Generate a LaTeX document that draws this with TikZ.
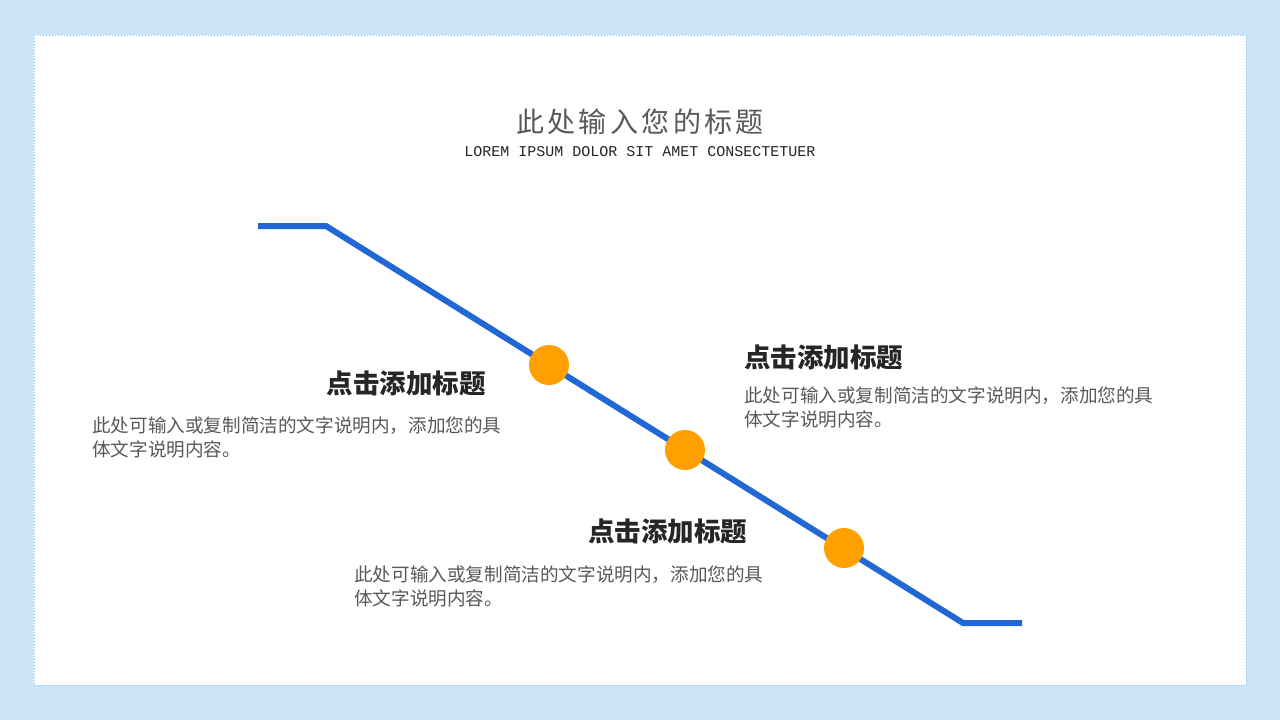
\documentclass[tikz,border=0pt]{standalone}
\usepackage{fontspec}
\newfontfamily\cjk{Noto Sans CJK SC}
\newfontfamily\cjkspaced[LetterSpace=12]{Noto Sans CJK SC}
\newfontfamily\mono{Liberation Mono}
\definecolor{bgblue}{HTML}{CDE3F7}
\definecolor{dotblue}{HTML}{7EC4EA}
\definecolor{lineblue}{HTML}{2168D6}
\definecolor{dotorange}{HTML}{FF9F00}
\definecolor{txtgray}{HTML}{595959}
\definecolor{txtdark}{HTML}{262626}
\tikzset{
  pathline/.style={draw=lineblue, line width=6pt, line join=miter},
  dotnode/.style={circle, fill=dotorange, minimum size=40pt, inner sep=0pt},
  headtxt/.style={font=\cjk\bfseries\fontsize{26.5}{30}\selectfont, text=txtdark, inner sep=0pt},
  bodytxt/.style={font=\cjk\fontsize{18.6}{24}\selectfont, text=txtgray, inner sep=0pt, align=left},
}
\begin{document}
\begin{tikzpicture}[x=1pt,y=-1pt]
\fill[bgblue] (0,0) rectangle (1280,720);
\useasboundingbox (0,0) rectangle (1280,720);
\fill[white] (34,35) rectangle (1246,685);
\draw[dotblue, line width=1pt, dotted] (34,35) rectangle (1246,685);
% title
\node[font=\cjkspaced\fontsize{28}{32}\selectfont, text=txtgray, inner sep=0pt] (title) at (640,122) {此处输入您的标题};
\node[font=\mono\fontsize{15}{18}\selectfont, text=txtdark, inner sep=0pt] (subtitle) at (640,152) {LOREM IPSUM DOLOR SIT AMET CONSECTETUER};
% path
\coordinate (p0) at (258,226);
\coordinate (p1) at (326,226);
\coordinate (p2) at (963,623);
\coordinate (p3) at (1022,623);
\draw[pathline] (p0) -- (p1) -- (p2) -- (p3);
\node[dotnode] (d1) at (549,365) {};
\node[dotnode] (d2) at (685,450) {};
\node[dotnode] (d3) at (844,548) {};
% texts
\node[headtxt, anchor=east] (h1) at (486,383) {点击添加标题};
\node[bodytxt, anchor=north west] (b1) at (92,417) {此处可输入或复制简洁的文字说明内，添加您的具\\体文字说明内容。};
\node[headtxt, anchor=west] (h2) at (744,357) {点击添加标题};
\node[bodytxt, anchor=north west] (b2) at (744,387) {此处可输入或复制简洁的文字说明内，添加您的具\\体文字说明内容。};
\node[headtxt, anchor=west] (h3) at (588,531) {点击添加标题};
\node[bodytxt, anchor=north west] (b3) at (354,566) {此处可输入或复制简洁的文字说明内，添加您的具\\体文字说明内容。};
\end{tikzpicture}
\end{document}
